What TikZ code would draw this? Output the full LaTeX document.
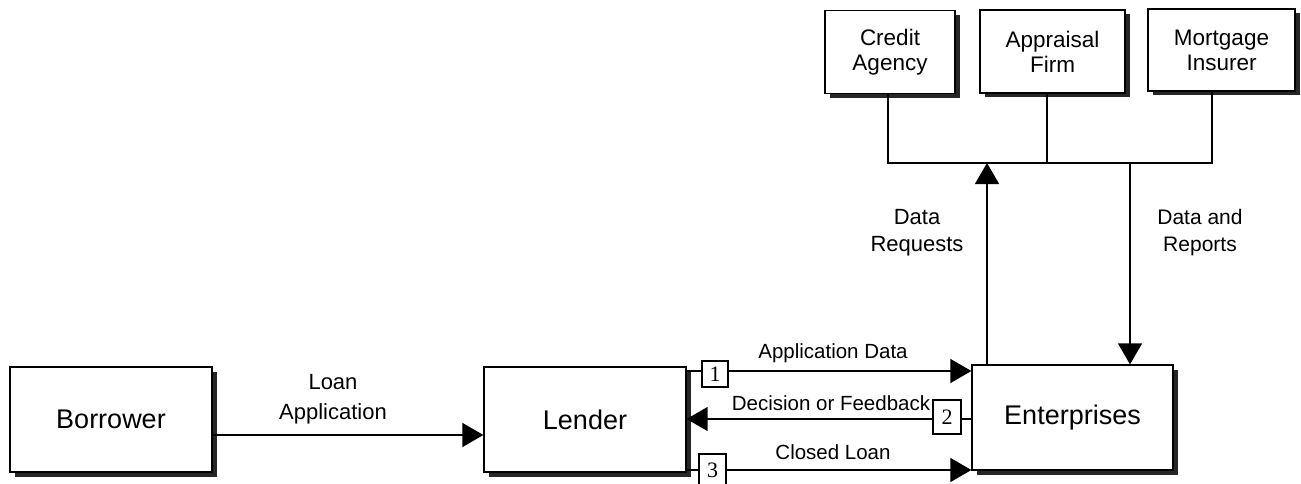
\documentclass[tikz,border=0pt]{standalone}
\usepackage{fontspec}
\setmainfont{Liberation Sans}
\newfontfamily\numfont{Liberation Serif}
\usetikzlibrary{arrows.meta,shadows}
\tikzset{
  flowline/.style={line width=1.4pt},
  flowarrow/.style={flowline,-{Triangle[length=21pt,width=24pt]}},
  party/.style={draw,line width=1.3pt,fill=white,inner sep=0pt,align=center,
    drop shadow={shadow xshift=4.5pt,shadow yshift=-4.5pt,fill=black!85,opacity=1}},
  mainparty/.style={party,minimum width=202pt,minimum height=105pt,font=\fontsize{27}{32}\selectfont},
  sideparty/.style={party,minimum height=83pt,font=\fontsize{22.5}{25}\selectfont},
  stepnum/.style={draw,line width=1.2pt,fill=white,inner sep=0pt,font=\numfont\fontsize{22}{24}\selectfont},
  flowlabel/.style={align=center,inner sep=0pt,font=\fontsize{21}{27}\selectfont}
}
\begin{document}
\begin{tikzpicture}[x=1pt,y=-1pt]
\useasboundingbox (0,0) rectangle (1301,484);

% parties
\node[mainparty] (bor) at (111,419.5) {Borrower};
\node[mainparty] (len) at (585,419.5) {Lender};
\node[mainparty,minimum width=201pt] (ent) at (1072.5,417.5) {Enterprises};
\node[sideparty,minimum width=130pt] (ca) at (890,52) {Credit\\Agency};
\node[sideparty,minimum width=145pt] (af) at (1052.5,51.5) {Appraisal\\Firm};
\node[sideparty,minimum width=147pt,minimum height=82pt] (mi) at (1221.5,50) {Mortgage\\Insurer};

% collector bar below the service providers
\coordinate (barL) at (888,163);
\coordinate (barM) at (1047,163);
\coordinate (barR) at (1212,163);
\coordinate (req) at (987,163);
\coordinate (rep) at (1130,163);
\draw[flowline] (ca.south -| barL) -- (barL) -- (barR) -- (mi.south -| barR);
\draw[flowline] (af.south -| barM) -- (barM);
\draw[flowarrow] (ent.north -| req) -- (req);
\draw[flowarrow] (rep) -- (ent.north -| rep);
\node[flowlabel,font=\fontsize{22}{27}\selectfont] (lreq) at (917,233) {Data\\Requests};
\node[flowlabel] (lrep) at (1200,233) {Data and\\Reports};

% borrower to lender
\coordinate (la) at (0,435);
\draw[flowarrow] (bor.east |- la) -- (len.west |- la);
\node[flowlabel,font=\fontsize{22}{30}\selectfont] (lla) at (333,399) {Loan\\Application};

% lender and enterprises exchange
\node[stepnum,minimum width=26pt,minimum height=26pt] (n1) at (715,374) {1};
\node[stepnum,minimum width=28pt,minimum height=34pt] (n2) at (947,417) {2};
\node[stepnum,minimum width=27pt,minimum height=32pt] (n3) at (712.5,470) {3};
\coordinate (y1) at (0,371);
\coordinate (y2) at (0,419);
\coordinate (y3) at (0,470);
\draw[flowline] (len.east |- y1) -- (n1.west |- y1);
\draw[flowarrow] (n1.east |- y1) -- (ent.west |- y1);
\draw[flowline] (ent.west |- y2) -- (n2.east |- y2);
\draw[flowarrow] (n2.west |- y2) -- (len.east |- y2);
\draw[flowline] (len.east |- y3) -- (n3.west |- y3);
\draw[flowarrow] (n3.east |- y3) -- (ent.west |- y3);
\node[flowlabel,font=\fontsize{20.5}{24}\selectfont] (lad) at (833,353) {Application Data};
\node[flowlabel,font=\fontsize{20.5}{24}\selectfont] (ldf) at (831,403) {Decision or Feedback};
\node[flowlabel,font=\fontsize{20.5}{24}\selectfont] (lcl) at (833,452) {Closed Loan};
\end{tikzpicture}
\end{document}
